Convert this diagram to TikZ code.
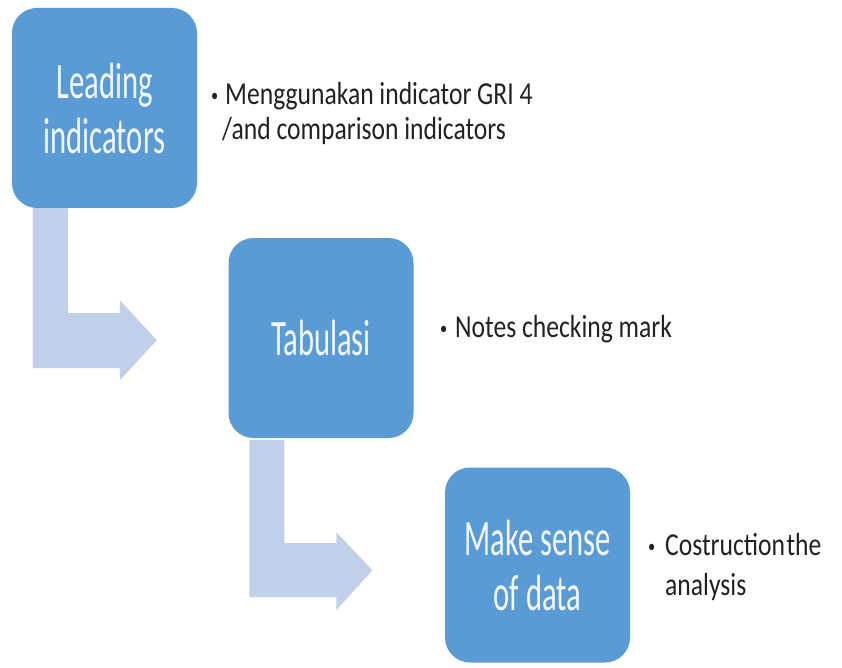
\documentclass[tikz,border=0pt]{standalone}
\usepackage{fontspec}
\setmainfont{Carlito}
\newfontfamily\boxfont[FakeStretch=0.6]{Carlito}
\newfontfamily\notefont[FakeStretch=0.8]{Carlito}
\usetikzlibrary{calc}
\definecolor{boxblue}{HTML}{5B9BD5}
\definecolor{arrowblue}{RGB}{194,207,233}
\definecolor{boxtext}{HTML}{F2F8FF}
\definecolor{notecolor}{HTML}{222222}
\begin{document}
\begin{tikzpicture}[x=1pt,y=-1pt,
  stagebox/.style={draw=none, fill=boxblue, rounded corners=25pt, minimum width=185pt,
    inner sep=0pt, text=boxtext, align=center,
    font=\boxfont\fontsize{51}{55}\selectfont},
  bentarrow/.style={fill=arrowblue, draw=none},
  notetext/.style={anchor=base west, inner sep=0pt, align=left, text=notecolor,
    font=\notefont\fontsize{32}{36}\selectfont},
  bulletmark/.style={anchor=base west, inner sep=0pt, text=notecolor,
    font=\notefont\fontsize{18}{18}\selectfont}]
\useasboundingbox (0,0) rectangle (842,668);
\fill[white] (0,0) rectangle (842,668);

% stage boxes
\node[stagebox, minimum height=200pt] (b1) at (104.5,108) {Leading\\indicators};
\node[stagebox, minimum height=200pt] (b2) at (321,338) {Tabulasi};
\node[stagebox, minimum height=195pt] (b3) at (537.5,565) {Make sense\\of data};

% bent arrows between stages
\fill[bentarrow] ($(b1.south west)+(21,0)$) -- ++(35,0) -- ++(0,105) -- ++(52,0)
  -- ++(0,-13) -- ++(37,40) -- ++(-37,40) -- ++(0,-12) -- ++(-87,0) -- cycle;
\fill[bentarrow] ($(b2.south west)+(21,2)$) -- ++(35,0) -- ++(0,103) -- ++(52,0)
  -- ++(0,-11) -- ++(36,38) -- ++(-36,40) -- ++(0,-13) -- ++(-87,0) -- cycle;

% notes
\node[bulletmark] (m1) at (211,102) {\textbullet};
\node[notetext] (n1) at (225,105) {Menggunakan indicator GRI 4};
\node[notetext] (n1b) at (222,140) {/and comparison indicators};
\node[bulletmark] (m2) at (440,334) {\textbullet};
\node[notetext] (n2) at (455,337) {Notes checking mark};
\node[bulletmark] (m3) at (648,552) {\textbullet};
\node[notetext] (n3) at (665,555) {Costruction\hspace{1.5pt}the};
\node[notetext] (n3b) at (665,595) {analysis};
\end{tikzpicture}
\end{document}
